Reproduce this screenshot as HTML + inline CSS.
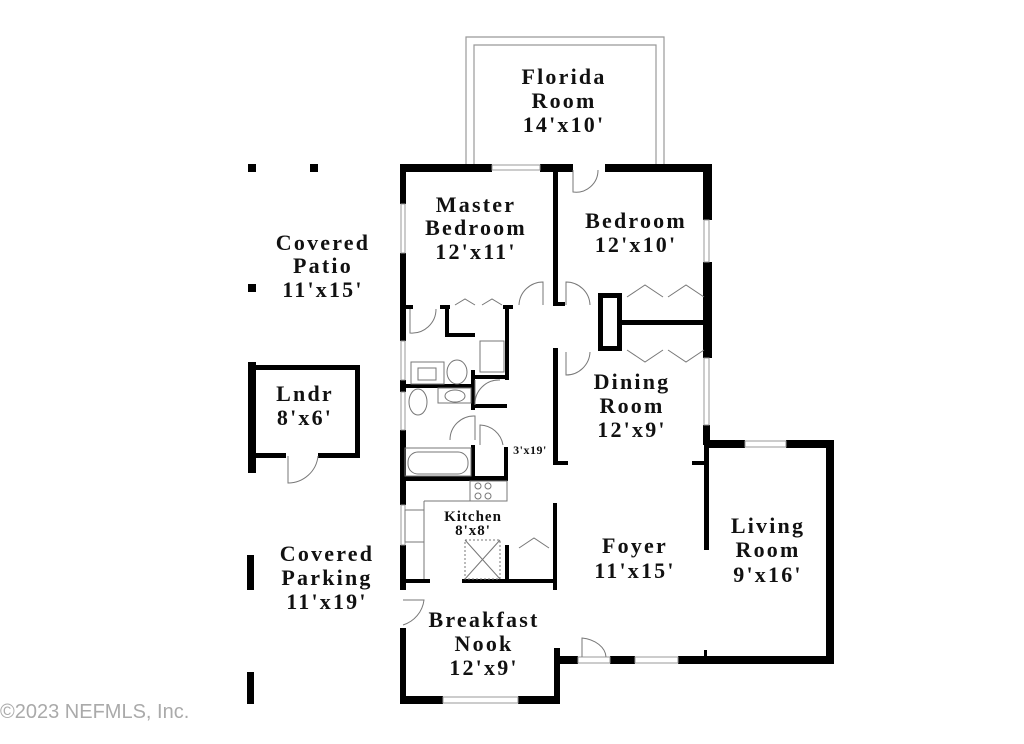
<!DOCTYPE html>
<html><head><meta charset="utf-8"><style>
html,body{margin:0;padding:0;background:#fff;}
svg{display:block}
.t{font-family:"Liberation Serif",serif;font-weight:bold;fill:#111;text-anchor:middle;letter-spacing:2.2px}
</style></head><body>
<svg width="1024" height="744" viewBox="0 0 1024 744" xmlns="http://www.w3.org/2000/svg">
<g fill="#000">
<path d="M466 37 H664 V165 H656 V45 H474 V165 H466 Z" fill="#fff" stroke="#999" stroke-width="1.2"/>
<rect x="400" y="164" width="92" height="8"/>
<rect x="540" y="164" width="33" height="8"/>
<rect x="605" y="164" width="107" height="8"/>
<rect x="492" y="165" width="48" height="5" fill="#fff" stroke="#999"/>
<rect x="400" y="164" width="6" height="40"/>
<rect x="400" y="253" width="6" height="88"/>
<rect x="400" y="380" width="6" height="12"/>
<rect x="400" y="430" width="6" height="75"/>
<rect x="400" y="545" width="6" height="45"/>
<rect x="400" y="628" width="6" height="75"/>
<rect x="401" y="204" width="4" height="49" fill="#fff" stroke="#999"/>
<rect x="401" y="341" width="4" height="39" fill="#fff" stroke="#999"/>
<rect x="401" y="392" width="4" height="38" fill="#fff" stroke="#999"/>
<rect x="401" y="505" width="4" height="40" fill="#fff" stroke="#999"/>
<rect x="703" y="164" width="9" height="56"/>
<rect x="703" y="262" width="9" height="96"/>
<rect x="703" y="425" width="7" height="20"/>
<rect x="704" y="220" width="5" height="42" fill="#fff" stroke="#999"/>
<rect x="704" y="358" width="5" height="67" fill="#fff" stroke="#999"/>
<rect x="704" y="440" width="41" height="8"/>
<rect x="786" y="440" width="48" height="8"/>
<rect x="745" y="441" width="41" height="6" fill="#fff" stroke="#999"/>
<rect x="826" y="440" width="8" height="224"/>
<rect x="704" y="445" width="5" height="105"/>
<rect x="692" y="461" width="12" height="4"/>
<rect x="704" y="650" width="3" height="10"/>
<rect x="555" y="656" width="23" height="8"/>
<rect x="610" y="656" width="25" height="8"/>
<rect x="678" y="656" width="156" height="8"/>
<rect x="635" y="657" width="43" height="6" fill="#fff" stroke="#999"/>
<rect x="578" y="657" width="32" height="6" fill="#fff" stroke="#999"/>
<path d="M582 657 V638 A28 20 0 0 1 606 657" fill="none" stroke="#777"/>
<rect x="400" y="696" width="43" height="8"/>
<rect x="518" y="696" width="42" height="8"/>
<rect x="443" y="697" width="75" height="6" fill="#fff" stroke="#999"/>
<rect x="554" y="648" width="6" height="56"/>
<path d="M403 625 A30 30 0 0 0 424 600 L403 600" fill="none" stroke="#777"/>
<rect x="553" y="168" width="5" height="137"/>
<rect x="553" y="302" width="12" height="4"/>
<rect x="598" y="293" width="24" height="5"/>
<rect x="598" y="293" width="5" height="57"/>
<rect x="617" y="293" width="5" height="57"/>
<rect x="598" y="346" width="24" height="5"/>
<rect x="622" y="320" width="84" height="5"/>
<rect x="553" y="348" width="5" height="117"/>
<rect x="553" y="461" width="15" height="4"/>
<rect x="403" y="305" width="10" height="4"/>
<rect x="440" y="305" width="10" height="4"/>
<rect x="445" y="305" width="4" height="32"/>
<rect x="445" y="333" width="30" height="4"/>
<rect x="503" y="305" width="10" height="4"/>
<rect x="505" y="305" width="4" height="75"/>
<rect x="471" y="375" width="38" height="4"/>
<rect x="471" y="370" width="4" height="40"/>
<rect x="403" y="384" width="72" height="4"/>
<rect x="471" y="404" width="36" height="4"/>
<rect x="471" y="445" width="4" height="35"/>
<rect x="504" y="447" width="4" height="33"/>
<rect x="403" y="476" width="105" height="5"/>
<rect x="553" y="503" width="4" height="87"/>
<rect x="505" y="545" width="4" height="38"/>
<rect x="403" y="579" width="27" height="4"/>
<rect x="462" y="579" width="95" height="4"/>
<rect x="248" y="362" width="8" height="111"/>
<rect x="248" y="365" width="112" height="5"/>
<rect x="355" y="365" width="5" height="92"/>
<rect x="248" y="453" width="38" height="5"/>
<rect x="318" y="453" width="42" height="5"/>
<path d="M288 456 V483 A30 30 0 0 0 318 456" fill="none" stroke="#777"/>
<rect x="248" y="164" width="8" height="8"/>
<rect x="310" y="164" width="8" height="8"/>
<rect x="248" y="284" width="8" height="8"/>
<rect x="247" y="555" width="7" height="35"/>
<rect x="247" y="672" width="7" height="32"/>
</g>
<g fill="none" stroke="#777" stroke-width="1">
<path d="M573 170 V192 A22 22 0 0 0 598 170"/>
<path d="M410 309 V333 A24 24 0 0 0 436 309"/>
<path d="M519 305 A24 24 0 0 1 543 282 V305"/>
<path d="M566 305 V282 A24 24 0 0 1 590 305"/>
<path d="M566 352 V375 A24 24 0 0 0 590 352"/>
<path d="M475 380 V405 A24 24 0 0 1 500 380"/>
<path d="M450 440 A24 24 0 0 1 475 416 V440"/>
<path d="M480 445 V425 A24 24 0 0 1 503 445"/>
<path d="M455 305 l10 -6 l10 6 M482 305 l10 -6 l10 6"/>
<path d="M627 297 l18 -12 l18 12 M668 297 l18 -12 l18 12"/>
<path d="M627 350 l18 12 l18 -12 M668 350 l18 12 l18 -12"/>
<path d="M519 548 l15 -10 l15 10"/>
<rect x="480" y="341" width="24" height="31"/>
<rect x="411" y="362" width="33" height="22"/>
<rect x="418" y="368" width="18" height="12"/>
<ellipse cx="457" cy="372" rx="10" ry="12"/>
<ellipse cx="418" cy="402" rx="9" ry="13"/>
<rect x="438" y="388" width="33" height="15"/>
<ellipse cx="455" cy="396" rx="10" ry="6"/>
<rect x="405" y="448" width="66" height="28"/>
<rect x="408" y="452" width="60" height="22" rx="10"/>
<rect x="470" y="481" width="37" height="20"/>
<circle cx="478" cy="486" r="3"/><circle cx="488" cy="486" r="3"/><circle cx="478" cy="496" r="3"/><circle cx="488" cy="496" r="3"/>
<path d="M424 501 H470 M424 501 V579"/>
<rect x="405" y="510" width="19" height="32"/>
<rect x="465" y="540" width="35" height="39" stroke-dasharray="2 2"/>
<path d="M465 540 L500 579 M500 540 L465 579"/>
</g>
<g class="t" font-size="22">
<text x="564" y="84">Florida</text>
<text x="564" y="108">Room</text>
<text x="564" y="132">14'x10'</text>
<text x="476" y="212">Master</text>
<text x="476" y="235">Bedroom</text>
<text x="476" y="259">12'x11'</text>
<text x="636" y="228">Bedroom</text>
<text x="636" y="252">12'x10'</text>
<text x="323" y="250">Covered</text>
<text x="323" y="273">Patio</text>
<text x="323" y="297">11'x15'</text>
<text x="305" y="401">Lndr</text>
<text x="305" y="425">8'x6'</text>
<text x="632" y="389">Dining</text>
<text x="632" y="413">Room</text>
<text x="632" y="437">12'x9'</text>
<text x="530" y="454" font-size="12" style="letter-spacing:0.5px">3'x19'</text>
<text x="473" y="521" font-size="15" style="letter-spacing:1px">Kitchen</text>
<text x="473" y="535" font-size="15" style="letter-spacing:1px">8'x8'</text>
<text x="635" y="553">Foyer</text>
<text x="635" y="578">11'x15'</text>
<text x="768" y="533">Living</text>
<text x="768" y="557">Room</text>
<text x="768" y="582">9'x16'</text>
<text x="327" y="561">Covered</text>
<text x="327" y="585">Parking</text>
<text x="327" y="609">11'x19'</text>
<text x="484" y="627">Breakfast</text>
<text x="484" y="651">Nook</text>
<text x="484" y="675">12'x9'</text>
</g>
<text x="0" y="718" font-family="Liberation Sans, sans-serif" font-size="20" fill="#aaa">©2023 NEFMLS, Inc.</text>
</svg>
</body></html>
